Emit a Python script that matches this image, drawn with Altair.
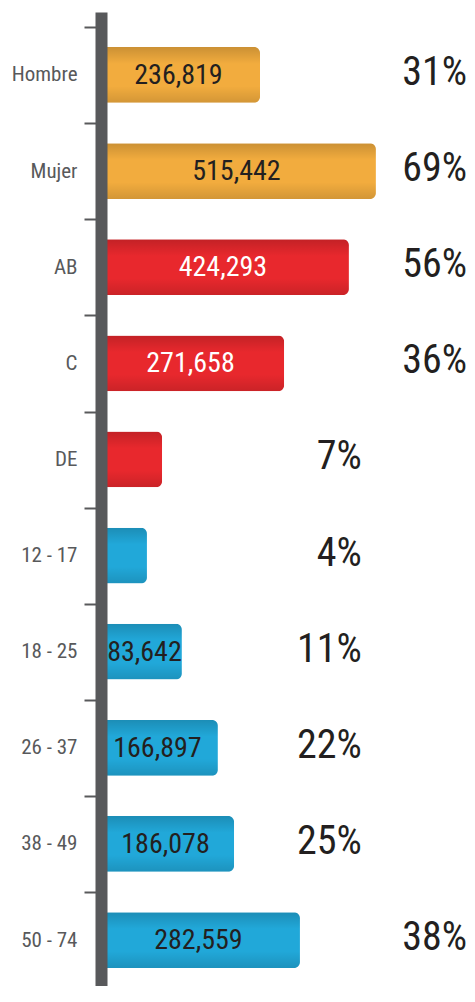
import altair as alt
import pandas as pd

# ---- data ----
categories = ["Hombre", "Mujer", "AB", "C", "DE", "12 - 17", "18 - 25", "26 - 37", "38 - 49", "50 - 74"]
groups = ["Sexo", "Sexo", "NSE", "NSE", "NSE", "Edad", "Edad", "Edad", "Edad", "Edad"]
count_labels = ["236,819", "515,442", "424,293", "271,658", "", "", "83,642", "166,897", "186,078", "282,559"]
percent_labels = ["31%", "69%", "56%", "36%", "7%", "4%", "11%", "22%", "25%", "38%"]
# bar lengths as drawn (relative scale 0-100)
bar_length = [42.5, 74.7, 67.2, 49.2, 15.3, 11.1, 20.8, 30.8, 35.3, 53.6]

group_order = ["Sexo", "NSE", "Edad"]
group_colors = ["#F2AC3E", "#E8282D", "#21A8D9"]

df = pd.DataFrame({
    "cat": categories,
    "grp": groups,
    "count": count_labels,
    "pct": percent_labels,
    "bar": bar_length,
})

FONT = "'Roboto Condensed', 'Noto Sans Condensed', 'DejaVu Sans Condensed', Roboto, sans-serif"
W, H = 360, 974
P_IN = 0.42

y_enc = alt.Y(
    "cat:N",
    sort=categories,
    scale=alt.Scale(paddingInner=P_IN, paddingOuter=0.2768, align=0.66),
    axis=alt.Axis(
        title=None,
        domain=True,
        domainColor="#58595B",
        domainWidth=12,
        domainCap="butt",
        offset=6,
        ticks=True,
        bandPosition=1 + P_IN / (1 - P_IN),
        tickExtra=True,
        tickOffset=-20,
        tickColor="#58595B",
        tickWidth=2,
        tickSize=17,
        labelOffset=20,
        labelPadding=7,
        labelFont=FONT,
        labelFontSize=21,
        labelColor="#58595B",
        labelAlign="right",
        labelBaseline="middle",
        zindex=1,
    ),
)
x_scale = alt.Scale(domain=[0, 100])

base = alt.Chart(df)

bars = base.mark_bar(cornerRadiusEnd=6).encode(
    y=y_enc,
    x=alt.X("bar:Q", scale=x_scale, axis=None),
    color=alt.Color("grp:N", scale=alt.Scale(domain=group_order, range=group_colors), legend=None),
)

shade = base.mark_bar(
    cornerRadiusEnd=6,
    fill=alt.Gradient(
        gradient="linear",
        x1=0, x2=0, y1=0, y2=1,
        stops=[
            alt.GradientStop(offset=0, color="rgba(0,0,0,0.16)"),
            alt.GradientStop(offset=0.3, color="rgba(0,0,0,0)"),
            alt.GradientStop(offset=0.7, color="rgba(0,0,0,0)"),
            alt.GradientStop(offset=1, color="rgba(0,0,0,0.13)"),
        ],
    ),
).encode(
    y=alt.Y("cat:N", sort=categories),
    x=alt.X("bar:Q", scale=x_scale),
)

counts = base.transform_calculate(mid="max(datum.bar / 2 - 1.4, 10.4)").mark_text(
    font=FONT, fontSize=28, align="center", baseline="middle", dy=1
).encode(
    y=alt.Y("cat:N", sort=categories),
    x=alt.X("mid:Q", scale=x_scale),
    text="count:N",
    color=alt.condition("datum.grp == 'NSE'", alt.value("#FFFFFF"), alt.value("#231F20")),
)

pcts = base.transform_calculate(px="datum.bar > 40 ? 100 : 70.8").mark_text(
    font=FONT, fontSize=40, align="right", baseline="middle", color="#231F20", dy=-2
).encode(
    y=alt.Y("cat:N", sort=categories),
    x=alt.X("px:Q", scale=x_scale),
    text="pct:N",
)

chart = alt.layer(bars, shade, counts, pcts).properties(
    width=W,
    height=H,
    autosize=alt.AutoSizeParams(type="none"),
    padding={"left": 99, "top": 4, "right": 0, "bottom": 0},
).configure_view(stroke=None)

chart.save("out.html", embed_options={"renderer": "svg", "actions": False})
